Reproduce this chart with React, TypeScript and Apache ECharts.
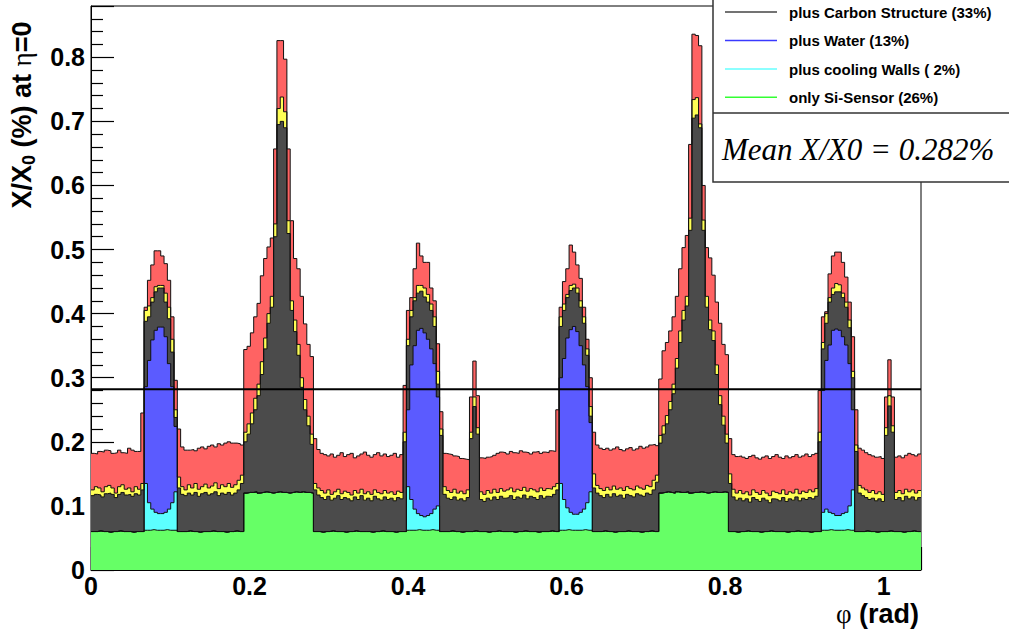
import { useEffect, useRef } from "react";
import * as echarts from "echarts";

// ---------- data ----------
const BIN_COUNT = 250;
const PHI_MAX = Math.PI / 3;
const MEAN_X0 = 0.282;

const xTickLabels = ["0", "0.2", "0.4", "0.6", "0.8", "1"];
const yTickLabels = ["0", "0.1", "0.2", "0.3", "0.4", "0.5", "0.6", "0.7", "0.8"];

const legendLabels = [
  "plus Carbon Structure (33%)",
  "plus Water (13%)",
  "plus cooling Walls ( 2%)",
  "only Si-Sensor (26%)",
];
const legendColors = ["#444444", "#3a3aff", "#66ffff", "#33ff33"];

// cumulative top of the full stack (red), per bin of phi
const totalTop = [
  .182, .181, .185, .184, .187, .186, .182, .183, .187, .183,
  .182, .190, .187, .185, .185, .245, .410, .452, .476, .498,
  .498, .490, .478, .452, .395, .296, .220, .192, .187, .187,
  .188, .186, .190, .192, .189, .193, .195, .192, .197, .195,
  .198, .200, .198, .198, .197, .195, .344, .349, .370, .395,
  .416, .459, .486, .504, .518, .657, .826, .826, .797, .657,
  .545, .486, .470, .427, .384, .352, .333, .205, .188, .182,
  .180, .178, .181, .176, .179, .183, .177, .180, .182, .175,
  .178, .181, .184, .179, .176, .180, .183, .178, .181, .177,
  .179, .182, .176, .180, .288, .405, .425, .470, .510, .490,
  .480, .480, .440, .420, .353, .247, .182, .181, .180, .178,
  .177, .174, .173, .172, .270, .326, .272, .175, .174, .176,
  .177, .179, .182, .184, .183, .181, .185, .183, .182, .186,
  .184, .183, .181, .184, .185, .182, .184, .183, .186, .185,
  .250, .410, .450, .470, .507, .496, .476, .455, .410, .360,
  .300, .215, .195, .190, .188, .190, .187, .189, .192, .188,
  .186, .189, .191, .187, .189, .193, .190, .192, .195, .196,
  .194, .298, .342, .355, .373, .395, .427, .470, .503, .522,
  .664, .836, .834, .818, .600, .503, .487, .460, .418, .385,
  .352, .336, .205, .180, .177, .178, .176, .174, .177, .179,
  .175, .173, .176, .178, .174, .177, .180, .176, .174, .178,
  .175, .177, .180, .176, .178, .181, .177, .180, .182, .280,
  .395, .403, .462, .490, .496, .496, .480, .457, .418, .364,
  .250, .190, .187, .183, .180, .178, .176, .177, .174, .270,
  .328, .270, .176, .178, .175, .179, .182, .180, .178, .181,
];

// cumulative top of the yellow layer
const supportTop = [
  .125, .130, .128, .122, .130, .132, .128, .120, .130, .133,
  .126, .128, .122, .130, .126, .135, .405, .412, .425, .442,
  .444, .444, .432, .410, .360, .250, .145, .130, .125, .133,
  .128, .135, .126, .130, .134, .128, .131, .136, .127, .133,
  .130, .135, .129, .133, .140, .148, .215, .228, .245, .268,
  .290, .325, .362, .400, .427, .540, .720, .738, .715, .545,
  .420, .390, .352, .300, .266, .240, .212, .135, .128, .124,
  .120, .125, .118, .122, .126, .119, .123, .121, .117, .124,
  .120, .126, .119, .122, .118, .125, .121, .119, .124, .120,
  .122, .118, .123, .121, .215, .360, .405, .425, .444, .444,
  .440, .430, .415, .395, .310, .220, .130, .124, .121, .126,
  .120, .123, .119, .125, .215, .270, .222, .122, .118, .124,
  .120, .126, .121, .127, .123, .125, .128, .122, .126, .124,
  .129, .123, .127, .125, .122, .128, .124, .127, .126, .130,
  .135, .395, .415, .430, .444, .446, .440, .420, .395, .345,
  .255, .150, .132, .127, .124, .129, .125, .131, .126, .128,
  .124, .130, .127, .125, .131, .128, .126, .132, .130, .140,
  .148, .210, .225, .241, .263, .290, .330, .373, .405, .427,
  .549, .734, .737, .696, .546, .427, .390, .373, .320, .272,
  .240, .212, .150, .126, .120, .124, .119, .122, .117, .125,
  .121, .118, .124, .120, .116, .123, .121, .119, .125, .118,
  .122, .120, .126, .119, .123, .121, .125, .122, .127, .215,
  .355, .400, .425, .440, .447, .445, .432, .418, .390, .310,
  .195, .132, .128, .125, .121, .124, .119, .122, .118, .222,
  .272, .225, .121, .124, .119, .126, .122, .125, .120, .124,
];

// cumulative top of the carbon structure (dark grey)
const carbonTop = [
  .116, .118, .117, .114, .119, .120, .118, .113, .118, .121,
  .117, .118, .115, .119, .117, .125, .388, .395, .418, .434,
  .440, .440, .418, .392, .340, .238, .128, .118, .116, .120,
  .117, .121, .115, .119, .121, .117, .119, .122, .116, .120,
  .118, .121, .117, .120, .125, .135, .200, .212, .228, .250,
  .272, .305, .345, .385, .410, .520, .695, .700, .690, .525,
  .405, .372, .335, .285, .250, .225, .196, .125, .117, .113,
  .110, .115, .109, .112, .116, .110, .113, .111, .108, .114,
  .110, .116, .109, .112, .108, .115, .111, .109, .114, .110,
  .112, .108, .113, .111, .200, .350, .395, .420, .432, .435,
  .426, .418, .405, .380, .290, .210, .118, .112, .110, .114,
  .109, .111, .108, .113, .205, .255, .212, .110, .107, .112,
  .109, .114, .110, .115, .112, .113, .116, .110, .114, .112,
  .117, .111, .115, .113, .110, .116, .112, .115, .114, .118,
  .125, .380, .405, .425, .436, .440, .432, .410, .385, .335,
  .240, .128, .120, .116, .113, .118, .114, .119, .115, .117,
  .112, .118, .116, .114, .119, .117, .115, .120, .118, .125,
  .137, .198, .212, .228, .250, .275, .315, .355, .390, .412,
  .530, .705, .710, .690, .530, .410, .375, .358, .305, .258,
  .226, .198, .135, .114, .109, .112, .108, .111, .106, .113,
  .110, .107, .112, .109, .105, .111, .110, .108, .113, .107,
  .111, .109, .114, .108, .112, .110, .113, .111, .115, .200,
  .345, .385, .418, .430, .434, .434, .425, .410, .378, .300,
  .185, .120, .116, .113, .110, .112, .108, .111, .107, .210,
  .256, .215, .110, .113, .108, .115, .111, .114, .109, .113,
];

// top of the Si-sensor layer (green)
const sensorTop = [
  .060, .060, .061, .060, .060, .059, .060, .060, .061, .060,
  .060, .060, .059, .060, .060, .060, .062, .062, .063, .062,
  .062, .062, .063, .062, .062, .062, .060, .060, .060, .061,
  .060, .060, .059, .060, .060, .060, .061, .060, .060, .060,
  .059, .060, .060, .061, .060, .060, .120, .121, .121, .122,
  .120, .121, .122, .121, .120, .121, .122, .121, .121, .120,
  .121, .122, .121, .122, .121, .121, .120, .060, .060, .059,
  .060, .060, .061, .060, .060, .060, .059, .060, .060, .061,
  .060, .060, .060, .060, .059, .060, .060, .061, .060, .060,
  .060, .059, .060, .060, .060, .062, .062, .062, .063, .062,
  .062, .062, .063, .062, .062, .060, .060, .060, .061, .060,
  .060, .059, .060, .060, .060, .061, .060, .060, .060, .059,
  .060, .060, .061, .060, .060, .060, .060, .059, .060, .060,
  .061, .060, .060, .060, .059, .060, .060, .060, .061, .060,
  .060, .062, .062, .063, .062, .062, .062, .062, .063, .062,
  .062, .060, .060, .060, .061, .060, .060, .059, .060, .060,
  .060, .061, .060, .060, .060, .059, .060, .060, .061, .060,
  .060, .120, .121, .122, .121, .120, .122, .121, .121, .122,
  .120, .121, .121, .122, .121, .120, .121, .122, .121, .121,
  .122, .121, .060, .060, .059, .060, .060, .061, .060, .060,
  .060, .059, .060, .060, .061, .060, .060, .060, .060, .059,
  .060, .060, .061, .060, .060, .060, .059, .060, .060, .060,
  .062, .062, .063, .062, .062, .062, .062, .063, .062, .062,
  .060, .060, .060, .061, .060, .060, .059, .060, .060, .060,
  .061, .060, .060, .060, .059, .060, .060, .061, .060, .060,
];

// cooling pipes: first bin of each pipe, then per-bin tops of water (blue) and walls (cyan)
const pipeStartBins = [16, 95, 141, 220];
const waterTop = [
  [.286, .327, .359, .374, .379, .379, .364, .322, .286, .224],
  [.250, .320, .350, .374, .377, .370, .360, .345, .322, .270],
  [.300, .330, .362, .375, .380, .372, .350, .320, .286, .230],
  [.280, .327, .351, .374, .376, .374, .364, .351, .322, .250],
];
const wallsTop = [
  [.135, .105, .095, .090, .088, .088, .090, .095, .105, .122],
  [.130, .110, .095, .088, .085, .083, .085, .088, .095, .100],
  [.135, .110, .097, .090, .087, .087, .090, .095, .105, .122],
  [.090, .095, .090, .088, .085, .085, .088, .090, .100, .125],
];

// ---------- helpers ----------
const SANS = '"Liberation Sans", Arial, Helvetica, sans-serif';
const SERIF = '"Liberation Serif", "Times New Roman", serif';
const BIN_W = PHI_MAX / BIN_COUNT;

function fillPipes(rows: number[][]): number[] {
  const out = sensorTop.slice();
  pipeStartBins.forEach((start, p) => {
    rows[p].forEach((v, k) => {
      out[start + k] = v;
    });
  });
  return out;
}

function toSteps(vals: number[]): number[][] {
  const pts = vals.map((v, i) => [i * BIN_W, v]);
  pts.push([vals.length * BIN_W, vals[vals.length - 1]]);
  return pts;
}

function layer(name: string, vals: number[], fill: string) {
  return {
    name,
    type: "line",
    step: "end",
    data: toSteps(vals),
    symbol: "none",
    showSymbol: false,
    silent: true,
    lineStyle: { color: "#111", width: 1 },
    areaStyle: { color: fill, opacity: 1 },
  };
}

function tickFormatter(step: number, labels: string[]) {
  return (v: number) => {
    const k = Math.round(v / step);
    return Math.abs(v - k * step) < 1e-6 && k >= 0 && k < labels.length ? labels[k] : "";
  };
}

function axisBase(max: number, interval: number, labels: string[], margin: number) {
  return {
    type: "value",
    min: 0,
    max,
    interval,
    axisLine: { show: true, onZero: false, lineStyle: { color: "#000", width: 1 } },
    axisTick: { show: true, inside: true, length: 23, lineStyle: { color: "#000", width: 1.2 } },
    minorTick: { show: true, splitNumber: 5, length: 12, lineStyle: { color: "#000", width: 1.2 } },
    splitLine: { show: false },
    axisLabel: {
      margin,
      fontFamily: SANS,
      fontWeight: "bold",
      fontSize: 25,
      color: "#000",
      formatter: tickFormatter(interval, labels),
    },
  };
}

export default function App() {
  const ref = useRef<HTMLDivElement>(null);

  useEffect(() => {
    if (!ref.current) return;
    const chart = echarts.init(ref.current, null, { renderer: "svg" });

    const wallsCum = fillPipes(wallsTop);
    const waterCum = fillPipes(waterTop);

    const legendRows = [12, 40.5, 69, 97.3];
    const legendGraphics: any[] = [];
    legendLabels.forEach((label, i) => {
      legendGraphics.push({
        type: "line",
        z: 101,
        shape: { x1: 725, y1: legendRows[i], x2: 777, y2: legendRows[i] },
        style: { stroke: legendColors[i], lineWidth: 1.5 },
      });
      legendGraphics.push({
        type: "text",
        z: 101,
        x: 789,
        y: legendRows[i],
        style: {
          text: label,
          fontFamily: SANS,
          fontWeight: "bold",
          fontSize: 15,
          fill: "#000",
          verticalAlign: "middle",
        },
      });
    });

    const option: any = {
      animation: false,
      backgroundColor: "#fff",
      grid: {
        left: 91,
        top: 6,
        width: 830,
        height: 564,
        show: true,
        borderColor: "#000",
        borderWidth: 1,
        backgroundColor: "transparent",
      },
      xAxis: axisBase(PHI_MAX, 0.2, xTickLabels, 3),
      yAxis: axisBase(0.88, 0.1, yTickLabels, 6),
      series: [
        layer("total", totalTop, "#ff6363"),
        layer("support", supportTop, "#ffff55"),
        layer("plus Carbon Structure", carbonTop, "#4b4b4b"),
        layer("plus Water", waterCum, "#5b5bff"),
        layer("plus cooling Walls", wallsCum, "#5cffff"),
        layer("only Si-Sensor", sensorTop, "#66ff66"),
        {
          name: "mean",
          type: "line",
          data: [
            [0, MEAN_X0],
            [PHI_MAX, MEAN_X0],
          ],
          symbol: "none",
          silent: true,
          z: 5,
          lineStyle: { color: "#000", width: 2 },
        },
      ],
      graphic: [
        {
          type: "rect",
          z: 100,
          shape: { x: 713, y: -10, width: 320, height: 192 },
          style: { fill: "#fff", stroke: "#333", lineWidth: 1.5 },
        },
        {
          type: "line",
          z: 101,
          shape: { x1: 713, y1: 113, x2: 1012, y2: 113 },
          style: { stroke: "#333", lineWidth: 1.5 },
        },
        ...legendGraphics,
        {
          type: "text",
          z: 101,
          x: 722,
          y: 149,
          style: {
            text: `Mean X/X0 = ${MEAN_X0.toFixed(3)}%`,
            fontFamily: SERIF,
            fontStyle: "italic",
            fontSize: 31,
            fill: "#000",
            verticalAlign: "middle",
          },
        },
        {
          type: "text",
          z: 101,
          x: 22,
          y: 115,
          rotation: Math.PI / 2,
          style: {
            text: "{t|X/X}{s|0}{t| (%) at }{g|η}{t|=0}",
            align: "center",
            verticalAlign: "middle",
            fill: "#000",
            rich: {
              t: { fontFamily: SANS, fontWeight: "bold", fontSize: 27, fill: "#000" },
              s: { fontFamily: SANS, fontWeight: "bold", fontSize: 18, fill: "#000", padding: [14, 0, 0, 0] },
              g: { fontFamily: SERIF, fontSize: 27, fill: "#000" },
            },
          },
        },
        {
          type: "text",
          z: 101,
          x: 919,
          y: 614,
          style: {
            text: "{g|φ}{t| (rad)}",
            align: "right",
            verticalAlign: "middle",
            fill: "#000",
            rich: {
              t: { fontFamily: SANS, fontWeight: "bold", fontSize: 27, fill: "#000" },
              g: { fontFamily: SERIF, fontSize: 27, fill: "#000" },
            },
          },
        },
      ],
    };

    chart.setOption(option);
    return () => chart.dispose();
  }, []);

  return (
    <div
      ref={ref}
      style={{ position: "fixed", left: 0, top: 0, width: 1009, height: 630, background: "#fff" }}
    />
  );
}
